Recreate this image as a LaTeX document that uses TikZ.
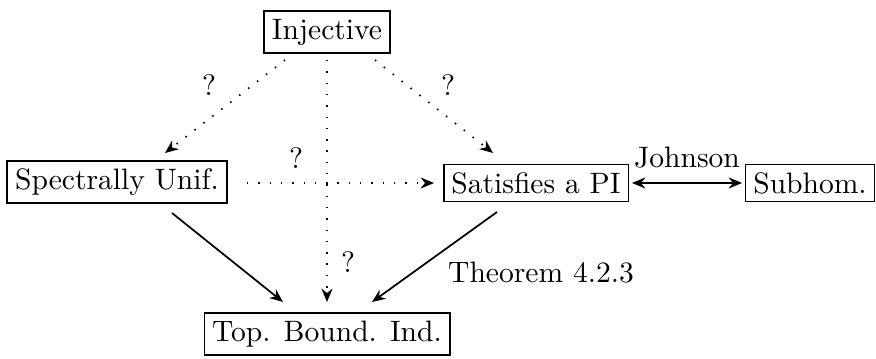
\documentclass[tikz,border=0pt]{standalone}
\usetikzlibrary{arrows.meta}
\begin{document}
\begin{tikzpicture}[x=0.345pt,y=-0.345pt,
  box/.style={draw,line width=0.6pt,inner sep=2.7pt,font=\fontsize{10.2}{12}\selectfont},
  lab/.style={font=\fontsize{10.2}{12}\selectfont,inner sep=1pt},
  arr/.style={-{Stealth[length=4.6pt,width=3.8pt,inset=1.5pt]},line width=0.6pt},
  dblarr/.style={{Stealth[length=4.6pt,width=3.8pt,inset=1.5pt]}-{Stealth[length=4.6pt,width=3.8pt,inset=1.5pt]},line width=0.6pt},
  dotarr/.style={arr,dash pattern=on 0.5pt off 3.4pt}
]
\useasboundingbox (0,0) rectangle (876,358);
\node[box] (inj) at (327,32) {Injective};
\node[box] (spec) at (117,182) {Spectrally Unif.};
\node[box] (pi) at (536,183) {Satisfies a PI};
\node[box] (sub) at (810,183) {Subhom.};
\node[box] (top) at (327,334) {Top. Bound. Ind.};
\coordinate (a1) at (285,60); \coordinate (a2) at (165,153);
\coordinate (b1) at (375,60); \coordinate (b2) at (493,153);
\coordinate (c1) at (327,60); \coordinate (c2) at (327,302);
\coordinate (d1) at (247,183); \coordinate (d2) at (434,183);
\coordinate (e1) at (632,183); \coordinate (e2) at (742,183);
\coordinate (f1) at (172,213); \coordinate (f2) at (283,302);
\coordinate (g1) at (497,212); \coordinate (g2) at (372,302);
\draw[dotarr] (a1) -- (a2);
\draw[dotarr] (b1) -- (b2);
\draw[dotarr] (c1) -- (c2);
\draw[dotarr] (d1) -- (d2);
\draw[dblarr] (e1) -- (e2);
\draw[arr] (f1) -- (f2);
\draw[arr] (g1) -- (g2);
\node[lab] (q1) at (209,85) {?};
\node[lab] (q2) at (448,85) {?};
\node[lab] (q3) at (348,262) {?};
\node[lab] (q4) at (296,158) {?};
\node[lab] (jo) at (687,158) {Johnson};
\node[lab] (th) at (541,273) {Theorem 4.2.3};
\end{tikzpicture}
\end{document}
